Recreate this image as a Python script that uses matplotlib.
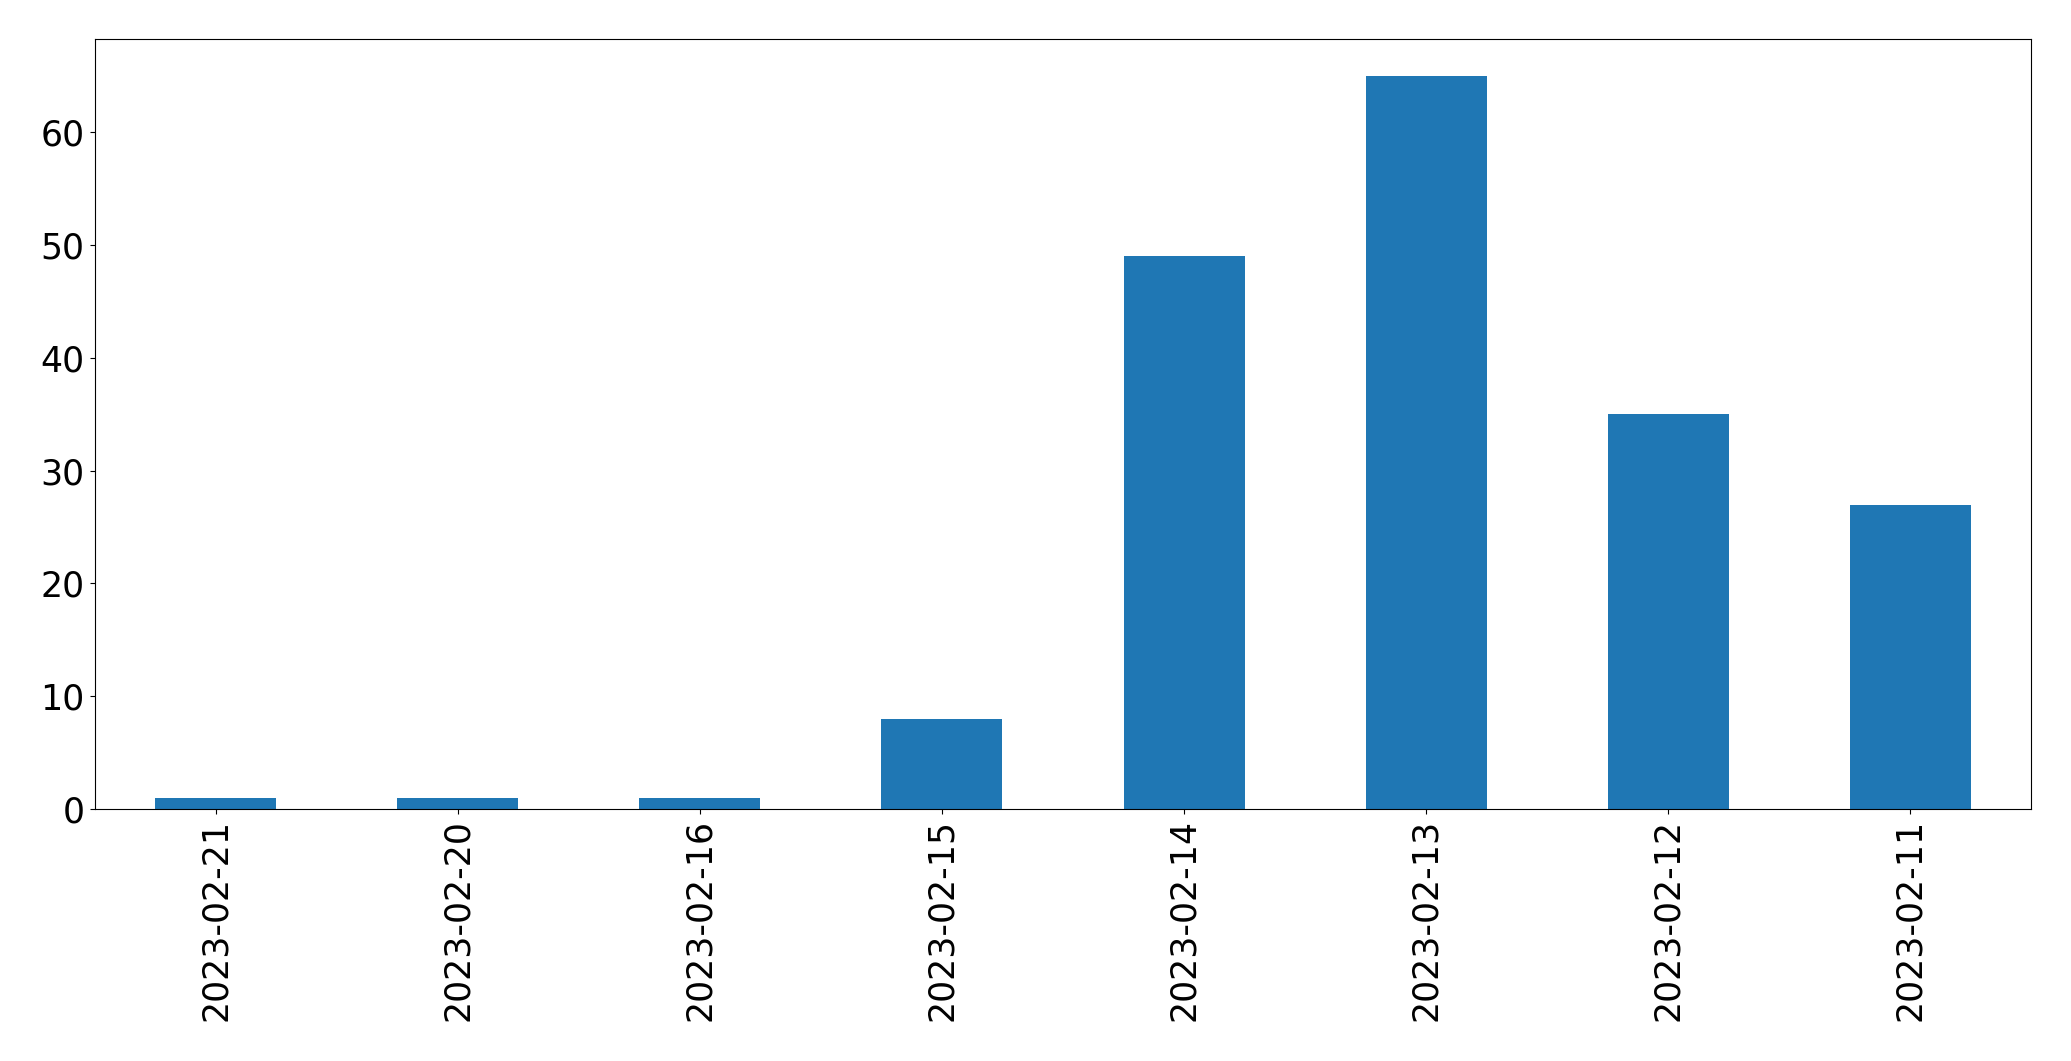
import matplotlib
matplotlib.use("Agg")
import matplotlib.pyplot as plt
import pandas as pd

dates = ['2023-02-21', '2023-02-20', '2023-02-16', '2023-02-15',
         '2023-02-14', '2023-02-13', '2023-02-12', '2023-02-11']
counts = [1, 1, 1, 8, 49, 65, 35, 27]

fig = plt.figure(figsize=[20.71, 10.61], dpi=100)
ax = fig.add_axes([94.7 / 2071, 1 - 809 / 1061, (2031.3 - 94.7) / 2071, (809 - 39.3) / 1061])

s = pd.Series(counts, index=dates)
s.plot(kind='bar', ax=ax, color='#1f77b4', width=0.5)

ax.tick_params(axis='both', labelsize=25, length=3.8)
ax.set_xlabel('')

plt.savefig('out.png', dpi=100)
